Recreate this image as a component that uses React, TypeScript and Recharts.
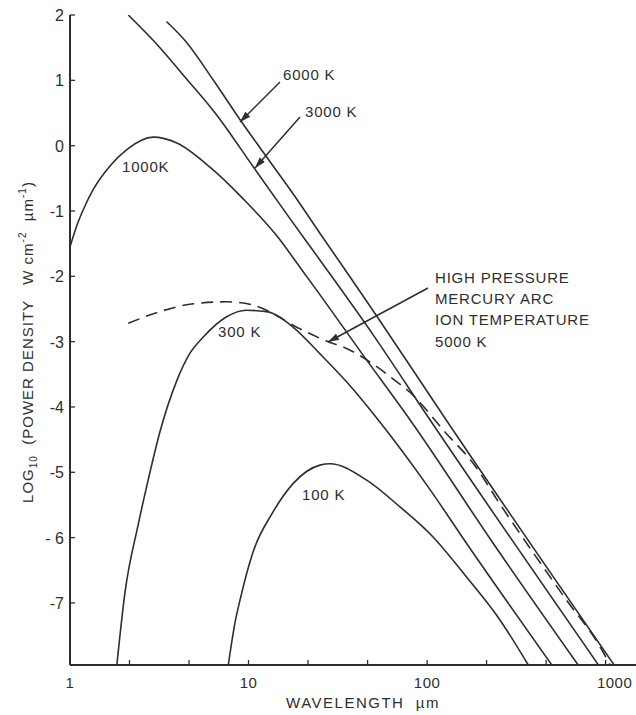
import React from 'react';
import { LineChart, Line, XAxis, YAxis } from 'recharts';

// Wavelength (µm) and log10 power density for each curve
const lambda6000 = [3.47, 4.5, 6.36, 8.95, 12.6, 17.8, 25.1, 50, 128, 1117];
const logP6000 = [1.9, 1.58, 1.0, 0.4, -0.17, -0.74, -1.34, -2.53, -4.2, -7.95];

const lambda3000 = [2.12, 3.19, 4.5, 6.63, 10.6, 16.3, 25.1, 50, 104, 912];
const logP3000 = [2.0, 1.5, 1.02, 0.47, -0.32, -1.04, -1.75, -2.9, -4.2, -7.95];

const lambda1000 = [1, 1.1, 1.2, 1.35, 1.675, 2.08, 2.92, 3.97, 6.08, 9.3, 14.4, 19.4, 25.1, 43.1, 80.4, 235, 702];
const logP1000 = [-1.55, -1.2, -0.95, -0.67, -0.31, -0.06, 0.13, 0.04, -0.33, -0.81, -1.38, -1.86, -2.28, -3.18, -4.2, -6.09, -7.95];

const lambda300 = [1.83, 2.03, 2.41, 2.74, 3.19, 3.96, 4.69, 5.58, 7.54, 9.7, 12.6, 17.8, 25, 35, 53.3, 100, 166.6, 500];
const logP300 = [-7.95, -6.85, -5.8, -5.12, -4.38, -3.6, -3.18, -2.93, -2.62, -2.52, -2.54, -2.78, -3.18, -3.6, -4.2, -5.2, -6.09, -7.95];

const lambda100 = [7.7, 8.4, 8.97, 10.6, 13.7, 17.8, 25.1, 28.6, 45.9, 70.5, 108, 166, 256, 369];
const logP100 = [-7.95, -7.3, -6.95, -6.22, -5.61, -5.17, -4.89, -4.87, -5.12, -5.53, -5.99, -6.6, -7.26, -7.95];

const lambdaArc = [2.12, 3.19, 4.91, 7.54, 10.6, 19.9, 27.9, 33.8, 49.6, 65.8, 81.2, 128.5, 181, 255, 395, 605, 931, 1060];
const logPArc = [-2.72, -2.54, -2.42, -2.39, -2.44, -2.82, -3.0, -3.08, -3.34, -3.59, -3.79, -4.41, -4.86, -5.48, -6.24, -6.96, -7.67, -7.95];

const xTicks = [1, 2.154, 4.642, 10, 21.54, 46.42, 100, 215.4, 464.2, 1000];
const xTickLabels = ['1', '', '', '10', '', '', '100', '', '', '1000'];
const yTicks = [-7, -6, -5, -4, -3, -2, -1, 0, 1, 2];
const yTickLabels = ['-7', '- 6', '-5', '-4', '-3', '-2', '-1', '0', '1', '2'];

const toPoints = (xs: number[], ys: number[]) => xs.map((x, i) => ({ x, y: ys[i] }));

const INK = '#2e2e2e';
const FONT = '"Liberation Sans", Arial, sans-serif';

const XTick = (props: any) => {
  const { x, y, payload } = props;
  const idx = xTicks.findIndex((t) => Math.abs(t - payload.value) < 1e-6);
  const label = idx >= 0 ? xTickLabels[idx] : '';
  const dx = label === '1000' ? 9 : 0;
  return (
    <g>
      <line x1={x} y1={y} x2={x} y2={y - 5} stroke={INK} strokeWidth={1.3} />
      {label ? (
        <text x={x + dx} y={y + 23} textAnchor="middle" fontFamily={FONT} fontSize={15} fill={INK} letterSpacing={0.5}>
          {label}
        </text>
      ) : null}
    </g>
  );
};

const YTick = (props: any) => {
  const { x, y, payload } = props;
  const idx = yTicks.indexOf(payload.value);
  const label = idx >= 0 ? yTickLabels[idx] : '';
  return (
    <g>
      <line x1={x} y1={y} x2={x + 5} y2={y} stroke={INK} strokeWidth={1.3} />
      <text x={x - 6} y={y + 6} textAnchor="end" fontFamily={FONT} fontSize={16} fill={INK} xmlSpace="preserve">
        {label}
      </text>
    </g>
  );
};

const arrowHead = (x1: number, y1: number, x2: number, y2: number) => {
  const ang = Math.atan2(y2 - y1, x2 - x1);
  const len = 11;
  const w = 3.5;
  const bx = x2 - len * Math.cos(ang);
  const by = y2 - len * Math.sin(ang);
  const px = -Math.sin(ang) * w;
  const py = Math.cos(ang) * w;
  return `${x2},${y2} ${bx + px},${by + py} ${bx - px},${by - py}`;
};

const arrows = [
  { x1: 280, y1: 82, x2: 240, y2: 122 },
  { x1: 300, y1: 117, x2: 255, y2: 168 },
  { x1: 428, y1: 288, x2: 328, y2: 342 },
];

export default function App() {
  const lineProps = {
    type: 'monotone' as const,
    dataKey: 'y',
    stroke: INK,
    strokeWidth: 1.6,
    dot: false,
    isAnimationActive: false,
  };
  return (
    <div style={{ position: 'absolute', left: 0, top: 0, width: 636, height: 715, background: '#fff' }}>
      <LineChart width={636} height={715} margin={{ top: 15, right: 0, bottom: 0, left: 0 }}>
        <XAxis
          type="number"
          dataKey="x"
          scale="log"
          domain={[1, 1480]}
          allowDataOverflow
          ticks={xTicks}
          interval={0}
          height={50}
          tickSize={0}
          tickMargin={0}
          tickLine={false}
          axisLine={{ stroke: INK, strokeWidth: 2 }}
          tick={<XTick />}
        />
        <YAxis
          type="number"
          domain={[-7.95, 2]}
          allowDataOverflow
          ticks={yTicks}
          interval={0}
          width={70}
          tickSize={0}
          tickMargin={0}
          tickLine={false}
          axisLine={{ stroke: INK, strokeWidth: 2 }}
          tick={<YTick />}
        />
        <Line {...lineProps} data={toPoints(lambda6000, logP6000)} name="6000 K" />
        <Line {...lineProps} data={toPoints(lambda3000, logP3000)} name="3000 K" />
        <Line {...lineProps} data={toPoints(lambda1000, logP1000)} name="1000K" />
        <Line {...lineProps} data={toPoints(lambda300, logP300)} name="300 K" />
        <Line {...lineProps} data={toPoints(lambda100, logP100)} name="100 K" />
        <Line {...lineProps} data={toPoints(lambdaArc, logPArc)} name="arc" strokeDasharray="12 7" />
      </LineChart>
      <svg width={636} height={715} style={{ position: 'absolute', left: 0, top: 0, pointerEvents: 'none' }}>
        {arrows.map((a, i) => (
          <g key={i}>
            <line x1={a.x1} y1={a.y1} x2={a.x2} y2={a.y2} stroke={INK} strokeWidth={1.5} />
            <polygon points={arrowHead(a.x1, a.y1, a.x2, a.y2)} fill={INK} />
          </g>
        ))}
        <g fontFamily={FONT} fontSize={15} fill={INK} letterSpacing={0.8}>
          <text x={283} y={80} xmlSpace="preserve">6000 K</text>
          <text x={305} y={117} xmlSpace="preserve">3000 K</text>
          <text x={122} y={172}>1000K</text>
          <text x={218} y={337} xmlSpace="preserve">300 K</text>
          <text x={302} y={500} xmlSpace="preserve">100 K</text>
          <text x={435} y={283}>HIGH PRESSURE</text>
          <text x={435} y={304}>MERCURY ARC</text>
          <text x={435} y={325}>ION TEMPERATURE</text>
          <text x={435} y={347} xmlSpace="preserve">5000 K</text>
          <text x={363} y={708} textAnchor="middle" letterSpacing={1.5} xmlSpace="preserve">WAVELENGTH  µm</text>
          <text transform="translate(33,342) rotate(-90)" textAnchor="middle" letterSpacing={1} xmlSpace="preserve">
            LOG<tspan dy={4} fontSize={10}>10</tspan>
            <tspan dy={-4}>  (POWER DENSITY   W cm</tspan>
            <tspan dy={-7} fontSize={10}>-2</tspan>
            <tspan dy={7}>  µm</tspan>
            <tspan dy={-7} fontSize={10}>-1</tspan>
            <tspan dy={7}>)</tspan>
          </text>
        </g>
      </svg>
    </div>
  );
}
